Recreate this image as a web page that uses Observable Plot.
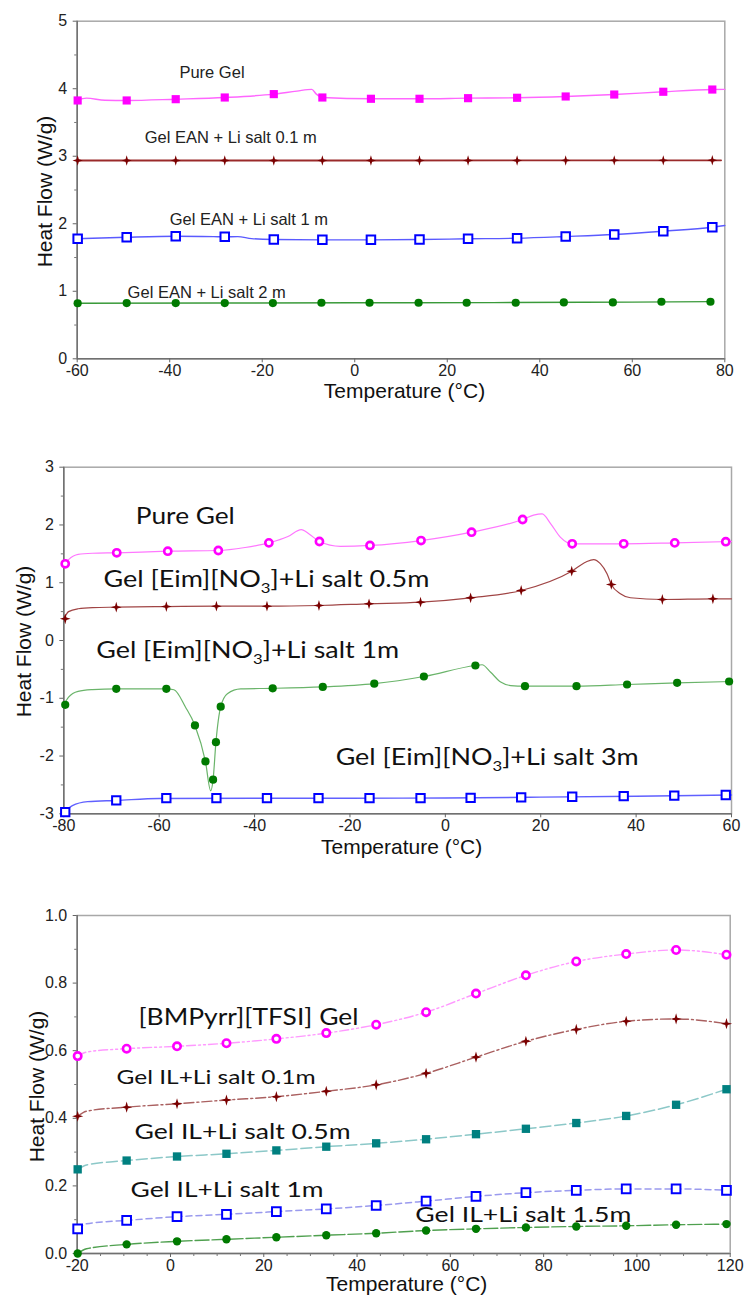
<!DOCTYPE html>
<html><head><meta charset="utf-8">
<script src="https://cdn.jsdelivr.net/npm/d3@7"></script>
<script src="https://cdn.jsdelivr.net/npm/@observablehq/plot@0.6"></script>
<style>body{margin:0;background:#fff}#c svg{display:block}</style>
</head><body><div id="c"></div>
<script>
// ---------- Panel 1 data (EAN gels) ----------
const p1MarkT = [-59.9, -49.3, -38.7, -28.1, -17.5, -7.0, 3.5, 14.0, 24.5, 35.1, 45.6, 56.1, 66.7, 77.3];
const p1PureMark = [3.826, 3.826, 3.845, 3.87, 3.92, 3.87, 3.851, 3.851, 3.86, 3.866, 3.885, 3.914, 3.955, 3.988];
const p1PureLineT = [-60, -58, -54, -49.3, -38.7, -28.1, -17.5, -12.5, -9.3, -8.3, -7.0, 3.5, 14.0, 24.5, 35.1, 45.6, 56.1, 66.7, 77.3, 80];
const p1PureLine = [3.826, 3.86, 3.83, 3.826, 3.845, 3.87, 3.92, 3.965, 3.99, 3.92, 3.87, 3.851, 3.851, 3.86, 3.866, 3.885, 3.914, 3.955, 3.988, 3.99];
const p1S01Mark = [2.937, 2.937, 2.937, 2.937, 2.937, 2.937, 2.937, 2.937, 2.937, 2.937, 2.938, 2.939, 2.939, 2.94];
const p1S01LineT = [-60, 0, 79.2];
const p1S01Line = [2.937, 2.937, 2.94];
const p1S1Mark = [1.777, 1.801, 1.816, 1.807, 1.767, 1.762, 1.762, 1.767, 1.777, 1.786, 1.811, 1.841, 1.890, 1.949];
const p1S1LineT = [-60, -49.3, -38.7, -30.5, -28.1, -25.3, -22.3, -17.5, -7.0, 3.5, 14.0, 24.5, 35.1, 45.6, 56.1, 66.7, 77.3, 80];
const p1S1Line = [1.777, 1.801, 1.816, 1.81, 1.807, 1.81, 1.78, 1.767, 1.762, 1.762, 1.767, 1.777, 1.786, 1.811, 1.841, 1.89, 1.949, 1.974];
const p1S2MarkT = [-59.9, -49.3, -38.7, -28.1, -17.7, -7.2, 3.2, 13.8, 24.2, 34.8, 45.2, 55.8, 66.3, 76.9];
const p1S2Mark = [0.823, 0.826, 0.826, 0.826, 0.826, 0.83, 0.83, 0.83, 0.83, 0.83, 0.835, 0.835, 0.845, 0.845];
const p1S2LineT = [-60, -30, 0, 30, 60, 77];
const p1S2Line = [0.823, 0.826, 0.83, 0.832, 0.84, 0.847];
const p1Labels = ["Pure Gel", "Gel EAN + Li salt 0.1 m", "Gel EAN + Li salt 1 m", "Gel EAN + Li salt 2 m"];
const p1LabelX = [-37.9, -45.4, -40.0, -49.1];
const p1LabelY = [4.24, 3.278, 2.063, 0.982];

// ---------- Panel 2 data ([Eim][NO3] gels) ----------
const p2PureMarkT = [-79.7, -68.9, -58.2, -47.6, -37.0, -26.4, -15.8, -5.1, 5.5, 16.2, 26.6, 37.4, 48.1, 58.8];
const p2PureMark = [1.328, 1.518, 1.546, 1.558, 1.69, 1.714, 1.645, 1.73, 1.875, 2.095, 1.674, 1.674, 1.69, 1.71];
const p2PureLineT = [-80, -79, -77, -74, -68.9, -58.2, -47.6, -42, -37.0, -33, -30.2, -28.5, -26.4, -22, -15.8, -5.1, 5.5, 16.2, 18.5, 20.3, 22.1, 24.1, 26.6, 37.4, 48.1, 60];
const p2PureLine = [1.31, 1.4, 1.49, 1.51, 1.518, 1.546, 1.558, 1.61, 1.69, 1.80, 1.92, 1.84, 1.714, 1.63, 1.645, 1.73, 1.875, 2.095, 2.17, 2.193, 2.02, 1.79, 1.674, 1.674, 1.69, 1.714];
const p2S05MarkT = [-79.7, -69.0, -58.5, -48.0, -37.4, -26.5, -16.0, -5.2, 5.3, 15.9, 26.5, 34.8, 45.5, 56.1];
const p2S05Mark = [0.376, 0.577, 0.588, 0.594, 0.594, 0.606, 0.635, 0.663, 0.739, 0.866, 1.20, 0.97, 0.71, 0.722];
const p2S05LineT = [-80, -79, -77, -74, -69.0, -58.5, -48.0, -37.4, -26.5, -16.0, -5.2, 5.3, 15.9, 26.5, 29.5, 31.1, 32.5, 33.9, 34.8, 36.7, 38.8, 45.5, 56.1, 60];
const p2S05Line = [0.376, 0.50, 0.55, 0.57, 0.577, 0.588, 0.594, 0.594, 0.606, 0.635, 0.663, 0.739, 0.866, 1.20, 1.36, 1.40, 1.33, 1.155, 0.97, 0.81, 0.74, 0.71, 0.722, 0.722];
const p2S1MarkT = [-79.7, -69.0, -58.5, -52.5, -50.3, -48.7, -48.1, -47.1, -36.2, -25.7, -14.9, -4.5, 6.3, 16.7, 27.5, 38.1, 48.6, 59.5];
const p2S1Mark = [-1.113, -0.836, -0.836, -1.47, -2.094, -2.41, -1.76, -1.145, -0.828, -0.804, -0.747, -0.623, -0.433, -0.79, -0.79, -0.762, -0.733, -0.71];
const p2S1LineT = [-80, -79, -77, -74, -69.0, -58.5, -56.9, -54.5, -52.5, -50.3, -49.2, -48.7, -48.1, -47.1, -45.7, -42.9, -36.2, -25.7, -14.9, -4.5, 6.3, 7.7, 9.5, 11.6, 13.7, 16.7, 27.5, 38.1, 48.6, 60];
const p2S1Line = [-1.113, -0.98, -0.88, -0.85, -0.836, -0.836, -0.853, -1.15, -1.47, -2.094, -2.6, -2.41, -1.76, -1.145, -0.92, -0.836, -0.828, -0.804, -0.747, -0.623, -0.433, -0.42, -0.55, -0.72, -0.78, -0.79, -0.79, -0.762, -0.733, -0.71];
const p2S3MarkT = [-79.7, -69.0, -58.5, -48.0, -37.4, -26.6, -15.9, -5.2, 5.3, 15.9, 26.6, 37.4, 48.0, 58.8];
const p2S3Mark = [-2.972, -2.769, -2.73, -2.73, -2.73, -2.73, -2.73, -2.73, -2.725, -2.715, -2.705, -2.695, -2.685, -2.675];
const p2S3LineT = [-80, -78.2, -75, -69.0, -60, -40, -20, 0, 20, 40, 60];
const p2S3Line = [-2.972, -2.86, -2.79, -2.769, -2.735, -2.73, -2.73, -2.727, -2.712, -2.695, -2.675];
const p2Labels = ["Pure Gel", "Gel [Eim][NO3]+Li salt 0.5m", "Gel [Eim][NO3]+Li salt 1m", "Gel [Eim][NO3]+Li salt 3m"];
const p2LabelX = [-64.9, -71.7, -73.2, -23.0];
const p2LabelY = [2.147, 1.051, -0.173, -2.03];

// ---------- Panel 3 data ([BMPyrr][TFSI] gels) ----------
const p3MarkT = [-19.9, -9.4, 1.4, 12.0, 22.7, 33.4, 44.1, 54.8, 65.5, 76.2, 87.0, 97.7, 108.4, 119.2];
const p3Pure = [0.584, 0.606, 0.613, 0.622, 0.635, 0.652, 0.677, 0.714, 0.769, 0.823, 0.864, 0.886, 0.898, 0.884];
const p3S01 = [0.406, 0.433, 0.443, 0.454, 0.464, 0.480, 0.499, 0.533, 0.581, 0.628, 0.663, 0.687, 0.694, 0.680];
const p3S05 = [0.249, 0.275, 0.287, 0.295, 0.305, 0.316, 0.326, 0.338, 0.353, 0.369, 0.386, 0.407, 0.44, 0.486];
const p3S1 = [0.073, 0.098, 0.109, 0.116, 0.124, 0.132, 0.142, 0.155, 0.169, 0.18, 0.187, 0.191, 0.191, 0.187];
const p3S15 = [0.0, 0.027, 0.036, 0.042, 0.048, 0.054, 0.06, 0.068, 0.073, 0.077, 0.08, 0.082, 0.085, 0.087];
const p3StartT = [-19.9, -18];
const p3PureStart = [0.584, 0.596];
const p3S01Start = [0.406, 0.421];
const p3S05Start = [0.249, 0.262];
const p3S1Start = [0.073, 0.088];
const p3S15Start = [0.0, 0.014];
const p3Labels = ["[BMPyrr][TFSI] Gel", "Gel IL+Li salt 0.1m", "Gel IL+Li salt 0.5m", "Gel IL+Li salt 1m", "Gel IL+Li salt 1.5m"];
const p3LabelX = [-6.86, -11.57, -7.71, -8.57, 52.5];
const p3LabelY = [0.699, 0.519, 0.359, 0.188, 0.1145];

// ---------- tick values ----------
const p1XTicks = [-60, -40, -20, 0, 20, 40, 60, 80];
const p1YTicks = [0, 1, 2, 3, 4, 5];
const p1YMinor = [0.5, 1.5, 2.5, 3.5, 4.5];
const p2XTicks = [-80, -60, -40, -20, 0, 20, 40, 60];
const p2YTicks = [-3, -2, -1, 0, 1, 2, 3];
const p2YMinor = [-2.5, -1.5, -0.5, 0.5, 1.5, 2.5];
const p3XTicks = [-20, 0, 20, 40, 60, 80, 100, 120];
const p3XMinor = [-15, -10, -5, 5, 10, 15, 25, 30, 35, 45, 50, 55, 65, 70, 75, 85, 90, 95, 105, 110, 115];
const p3YTicks = [0, 0.2, 0.4, 0.6, 0.8, 1.0];
const p3YMinor = [0.1, 0.3, 0.5, 0.7, 0.9];

// ---------- styling / helpers ----------
const AR = "'Liberation Sans', Arial, sans-serif";
const CAL = "Lato, Carlito, Calibri, sans-serif";
const zip = (xs, ys) => xs.map((x, i) => ({x, y: ys[i]}));
const star4 = {draw(ctx, size) {
  const R = Math.sqrt(size / Math.PI), r = R * 0.32;
  for (let i = 0; i < 8; i++) {
    const a = i * Math.PI / 4 - Math.PI / 2, rr = i % 2 ? r : R;
    const px = rr * Math.cos(a), py = rr * Math.sin(a);
    if (i) ctx.lineTo(px, py); else ctx.moveTo(px, py);
  }
  ctx.closePath();
}};

function frameMarks(xd, yd) {
  return [
    Plot.frame({stroke: "#a8a8a8", strokeWidth: 1.5}),
    Plot.ruleX([xd[0]], {stroke: "#707070", strokeWidth: 1.5}),
    Plot.ruleY([yd[0]], {stroke: "#707070", strokeWidth: 1.5})
  ];
}
function axisMarks(xt, yt, yfmt, xminor, yminor) {
  const m = [
    Plot.axisX({ticks: xt, tickSize: 4, tickPadding: 2, fontSize: 16, fontFamily: AR, stroke: "#666", fill: "#222", label: null, tickFormat: d => String(d)}),
    Plot.axisY({ticks: yt, tickSize: 4, tickPadding: 6, fontSize: 16, fontFamily: AR, stroke: "#666", fill: "#222", label: null, tickFormat: yfmt})
  ];
  if (xminor) m.push(Plot.axisX({ticks: xminor, tickSize: 3, tickFormat: () => "", stroke: "#777", label: null}));
  if (yminor) m.push(Plot.axisY({ticks: yminor, tickSize: 2.5, tickFormat: () => "", stroke: "#777", label: null}));
  return m;
}
function titles(xdx, xdy, ydx, ydy) {
  return [
    Plot.text(["Temperature (°C)"], {text: d => d, frameAnchor: "bottom", textAnchor: "middle", lineAnchor: "middle", dx: xdx, dy: xdy, fontSize: 21, fontFamily: AR, fill: "#111"}),
    Plot.text(["Heat Flow (W/g)"], {text: d => d, frameAnchor: "left", textAnchor: "middle", lineAnchor: "middle", rotate: -90, dx: ydx, dy: ydy, fontSize: 21, fontFamily: AR, fill: "#111"})
  ];
}
function series(lt, ly, mt, my, s) {
  return [
    Plot.line(zip(lt, ly), {x: "x", y: "y", curve: "monotone-x", stroke: s.line, strokeWidth: s.lw || 1.4, strokeDasharray: s.dash}),
    Plot.dot(zip(mt, my), {x: "x", y: "y", symbol: s.symbol, r: s.r, fill: s.fill, stroke: s.stroke || "none", strokeWidth: s.sw || 0})
  ];
}
function labelMark(texts, xs, ys, font, size, color) {
  return Plot.text(texts.map((t, i) => ({t, x: xs[i], y: ys[i]})), {x: "x", y: "y", text: "t", textAnchor: "start", lineAnchor: "middle", fontSize: size, fontFamily: font, fill: color});
}
function finish(svg, labels, widths) {
  const ns = "http://www.w3.org/2000/svg";
  svg.querySelectorAll("text").forEach(el => {
    const i = labels.indexOf(el.textContent);
    if (i < 0) return;
    const s = labels[i];
    if (s.includes("NO3")) {
      const [a, b] = s.split("NO3");
      el.textContent = "";
      const t1 = document.createElementNS(ns, "tspan"); t1.textContent = a + "NO";
      const t2 = document.createElementNS(ns, "tspan"); t2.textContent = "3"; t2.setAttribute("font-size", "0.62em"); t2.setAttribute("dy", "6");
      const t3 = document.createElementNS(ns, "tspan"); t3.textContent = b; t3.setAttribute("dy", "-6");
      el.append(t1, t2, t3);
    }
    if (widths) { el.setAttribute("textLength", widths[i]); el.setAttribute("lengthAdjust", "spacingAndGlyphs"); }
  });
}

const W = 747;
const root = document.getElementById("c");

// ---------- Panel 1 ----------
{
  const xd = [-60, 80], yd = [0, 5];
  const svg = Plot.plot({
    width: W, height: 430, marginTop: 20.7, marginBottom: 71.7, marginLeft: 76.7, marginRight: 22.7,
    style: {fontFamily: AR, fontSize: "16px", background: "#fff"},
    x: {domain: xd}, y: {domain: yd},
    marks: [
      ...frameMarks(xd, yd),
      ...axisMarks(p1XTicks, p1YTicks, d => String(d), null, p1YMinor),
      ...series(p1PureLineT, p1PureLine, p1MarkT, p1PureMark, {line: "#ff66ff", symbol: "square", r: 4.6, fill: "#ff00ff"}),
      ...series(p1S01LineT, p1S01Line, p1MarkT, p1S01Mark, {line: "#9a2a2a", lw: 1.8, symbol: star4, r: 5.2, fill: "#7a0000"}),
      ...series(p1S1LineT, p1S1Line, p1MarkT, p1S1Mark, {line: "#5a5aff", symbol: "square", r: 4.8, fill: "white", stroke: "#0000ff", sw: 2}),
      ...series(p1S2LineT, p1S2Line, p1S2MarkT, p1S2Mark, {line: "#3a9a3a", symbol: "circle", r: 4.1, fill: "#007a00"}),
      labelMark(p1Labels, p1LabelX, p1LabelY, AR, 16.5, "#222"),
      ...titles(3.5, 32.5, -32, 1.5)
    ]
  });
  root.append(svg);
}

// ---------- Panel 2 ----------
{
  const xd = [-80, 60], yd = [-3, 3];
  const svg = Plot.plot({
    width: W, height: 450, marginTop: 36.7, marginBottom: 66.7, marginLeft: 63.3, marginRight: 16,
    style: {fontFamily: AR, fontSize: "16px", background: "#fff"},
    x: {domain: xd}, y: {domain: yd},
    marks: [
      ...frameMarks(xd, yd),
      ...axisMarks(p2XTicks, p2YTicks, d => String(d), null, p2YMinor),
      ...series(p2PureLineT, p2PureLine, p2PureMarkT, p2PureMark, {line: "#ff77ff", lw: 1.2, symbol: "circle", r: 3.6, fill: "white", stroke: "#ff00ff", sw: 2.6}),
      ...series(p2S05LineT, p2S05Line, p2S05MarkT, p2S05Mark, {line: "#a04545", lw: 1.2, symbol: star4, r: 5.4, fill: "#7a0000"}),
      ...series(p2S1LineT, p2S1Line, p2S1MarkT, p2S1Mark, {line: "#6ab46a", lw: 1.2, symbol: "circle", r: 4.1, fill: "#007a00"}),
      ...series(p2S3LineT, p2S3Line, p2S3MarkT, p2S3Mark, {line: "#6060ff", lw: 1.4, symbol: "square", r: 4.7, fill: "white", stroke: "#0000ff", sw: 2}),
      labelMark(p2Labels, p2LabelX, p2LabelY, CAL, 23, "#111"),
      ...titles(4, 33, -40, 1)
    ]
  });
  finish(svg, p2Labels, [99, 326, 303, 303]);
  root.append(svg);
}

// ---------- Panel 3 ----------
{
  const xd = [-20, 120], yd = [0, 1];
  const svg = Plot.plot({
    width: W, height: 417, marginTop: 35, marginBottom: 44, marginLeft: 76.7, marginRight: 17.3,
    style: {fontFamily: AR, fontSize: "16px", background: "#fff"},
    x: {domain: xd}, y: {domain: yd},
    marks: [
      ...frameMarks(xd, yd),
      ...axisMarks(p3XTicks, p3YTicks, d => d.toFixed(1), p3XMinor, p3YMinor),
      ...series(p3StartT.concat(p3MarkT.slice(1)), p3PureStart.concat(p3Pure.slice(1)), p3MarkT, p3Pure, {line: "#ff99ff", lw: 1.4, dash: "9,3,2,3,2,3", symbol: "circle", r: 3.7, fill: "white", stroke: "#ff00ff", sw: 2.6}),
      ...series(p3StartT.concat(p3MarkT.slice(1)), p3S01Start.concat(p3S01.slice(1)), p3MarkT, p3S01, {line: "#aa6060", lw: 1.4, dash: "10,3,2,3", symbol: star4, r: 5.6, fill: "#7a0000"}),
      ...series(p3StartT.concat(p3MarkT.slice(1)), p3S05Start.concat(p3S05.slice(1)), p3MarkT, p3S05, {line: "#8cc8c8", lw: 1.5, dash: "11,4", symbol: "square", r: 4.7, fill: "#008080"}),
      ...series(p3StartT.concat(p3MarkT.slice(1)), p3S1Start.concat(p3S1.slice(1)), p3MarkT, p3S1, {line: "#9a9aee", lw: 1.5, dash: "6,4", symbol: "square", r: 4.9, fill: "white", stroke: "#0000ff", sw: 2}),
      ...series(p3StartT.concat(p3MarkT.slice(1)), p3S15Start.concat(p3S15.slice(1)), p3MarkT, p3S15, {line: "#4fa04f", lw: 1.4, dash: "14,3", symbol: "circle", r: 4.2, fill: "#007a00"}),
      labelMark(p3Labels.slice(0, 1), p3LabelX, p3LabelY, CAL, 23, "#111"),
      labelMark(p3Labels.slice(1, 2), p3LabelX.slice(1), p3LabelY.slice(1), CAL, 20, "#111"),
      labelMark(p3Labels.slice(2), p3LabelX.slice(2), p3LabelY.slice(2), CAL, 22, "#111"),
      ...titles(3, 30.5, -40, 2)
    ]
  });
  finish(svg, p3Labels, [220, 199, 216, 193, 216]);
  root.append(svg);
}
</script></body></html>
